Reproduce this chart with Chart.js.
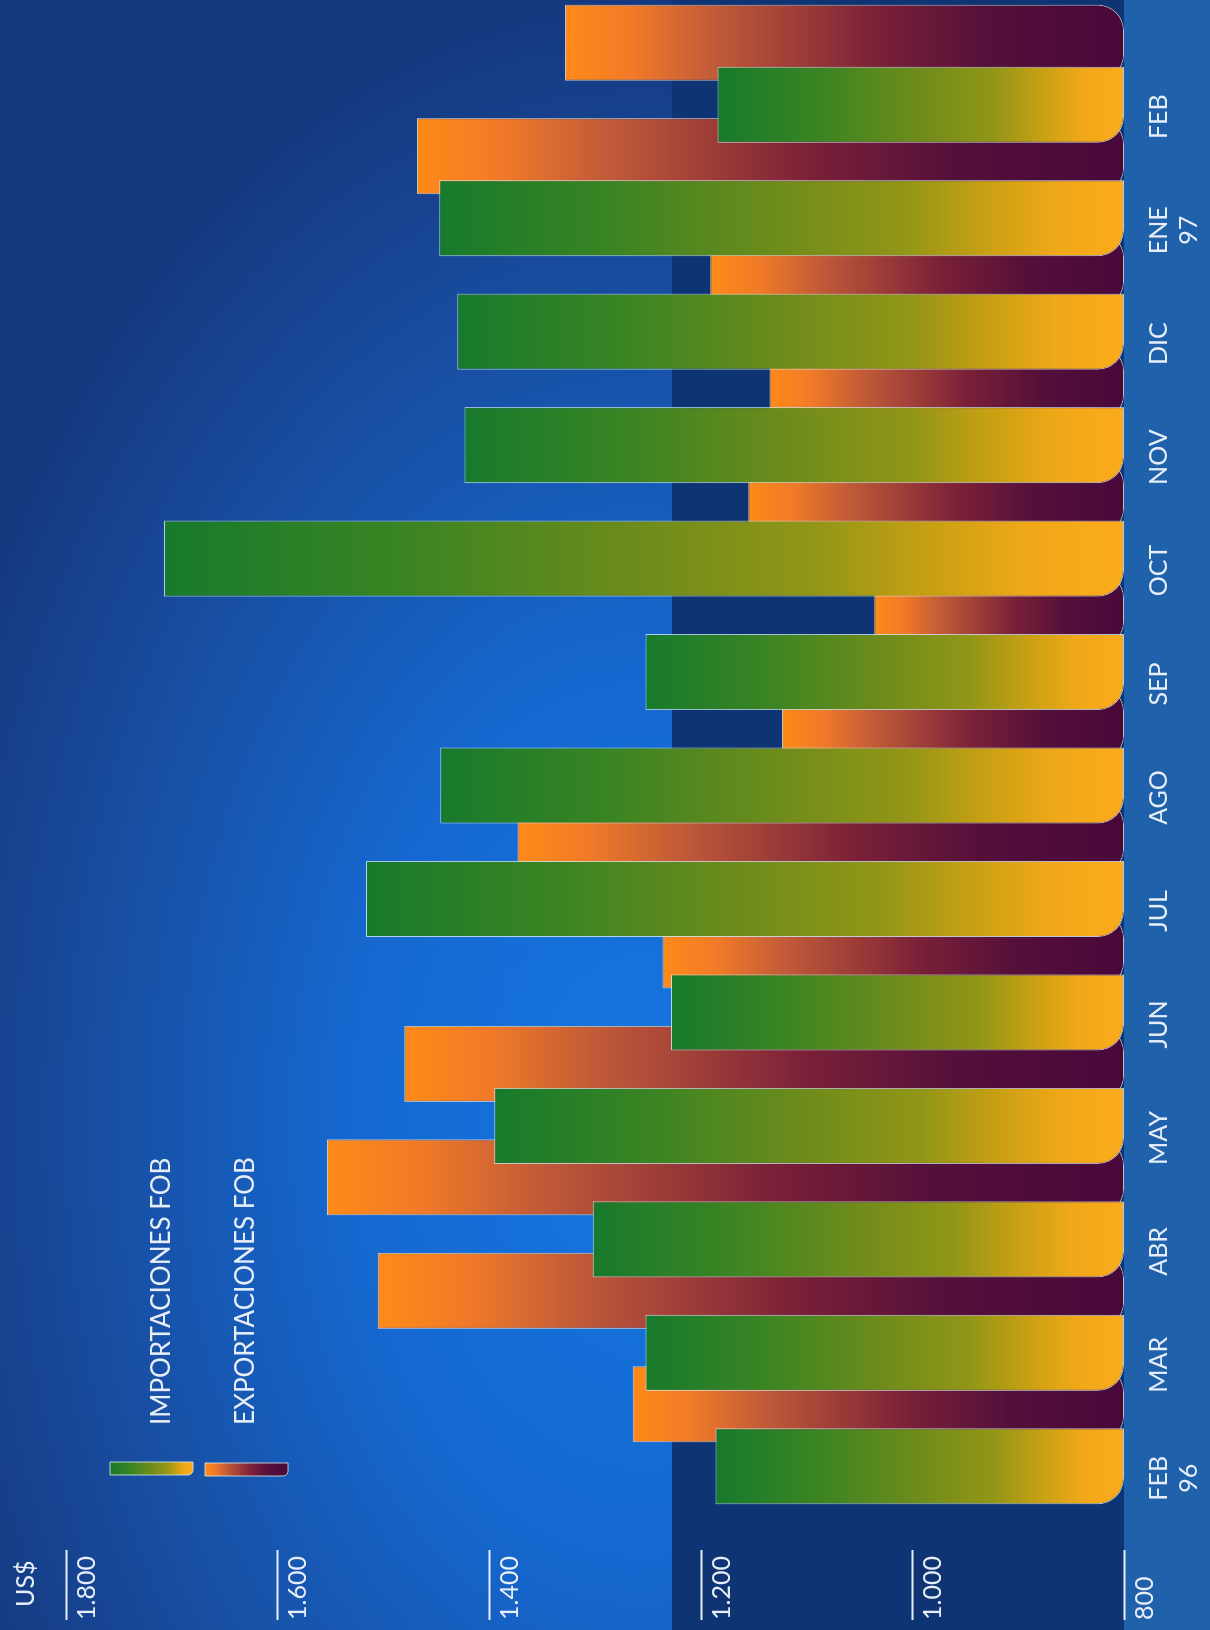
<!DOCTYPE html>
<html>
<head>
<meta charset="utf-8">
<script src="https://cdn.jsdelivr.net/npm/chart.js@4.4.1/dist/chart.umd.min.js"></script>
<style>
  html, body { margin: 0; padding: 0; }
  body {
    width: 1210px; height: 1630px; overflow: hidden; position: relative;
    background: radial-gradient(ellipse 760px 1150px at 640px 1120px, #1676e2 0%, #1568d0 38%, #184fa3 70%, #15377c 100%);
  }
  #wrap {
    position: absolute; left: 0; top: 0; width: 1630px; height: 1210px;
    transform-origin: 0 0; transform: translateY(1630px) rotate(-90deg);
  }
</style>
</head>
<body>
<div id="wrap"><canvas id="chart" width="1630" height="1210"></canvas></div>
<script>
'use strict';

var months = [['FEB', '96'], 'MAR', 'ABR', 'MAY', 'JUN', 'JUL', 'AGO', 'SEP', 'OCT', 'NOV', 'DIC', ['ENE', '97'], 'FEB'];
var importaciones = [1186, 1252, 1302, 1395, 1228, 1516, 1446, 1252, 1707, 1423, 1430, 1447, 1184];
var exportaciones = [1264, 1505, 1553, 1480, 1236, 1373, 1123, 1036, 1155, 1135, 1191, 1468, 1328];
var yTicks = [800, 1000, 1200, 1400, 1600, 1800];
var bandTop = 1227;

var textColor = '#e8eef8';
var fontFamily = 'Lato, "Noto Sans", sans-serif';

var impStops = [[0, '#177a2c'], [0.25, '#3a8423'], [0.5, '#6f8c1b'], [0.68, '#929617'], [0.8, '#c9a013'], [0.9, '#f0a818'], [1, '#fbab1c']];
var expStops = [[0, '#ff8a18'], [0.12, '#f07a28'], [0.27, '#c05a38'], [0.56, '#7a2038'], [0.76, '#55103a'], [1, '#48083a']];

function fmt(v) {
  return v >= 1000 ? Math.floor(v / 1000) + '.' + String(v % 1000).padStart(3, '0') : String(v);
}

function barGradient(stops) {
  return function (context) {
    var chart = context.chart;
    if (!chart.chartArea || context.type !== 'data') return stops[0][1];
    var y = chart.scales.y;
    var top = y.getPixelForValue(context.raw);
    var base = y.getPixelForValue(yTicks[0]);
    var g = chart.ctx.createLinearGradient(0, top, 0, base);
    stops.forEach(function (s) { g.addColorStop(s[0], s[1]); });
    return g;
  };
}

// background band + label strip
var backdrop = {
  id: 'backdrop',
  beforeDraw: function (chart) {
    var ctx = chart.ctx, area = chart.chartArea, y = chart.scales.y;
    ctx.save();
    ctx.fillStyle = '#1f62ab';
    ctx.fillRect(0, area.bottom, chart.width, chart.height - area.bottom);
    var t = y.getPixelForValue(bandTop);
    ctx.fillStyle = '#0f3474';
    ctx.fillRect(0, t, chart.width, area.bottom - t);
    ctx.restore();
  }
};

// tick lines, unit and legend
var extras = {
  id: 'extras',
  afterDraw: function (chart) {
    var ctx = chart.ctx, y = chart.scales.y;
    ctx.save();
    ctx.strokeStyle = textColor;
    ctx.lineWidth = 2;
    yTicks.forEach(function (v) {
      var p = Math.round(y.getPixelForValue(v)) + 0.5;
      ctx.beginPath();
      ctx.moveTo(10, p);
      ctx.lineTo(80, p);
      ctx.stroke();
    });
    ctx.fillStyle = textColor;
    ctx.font = '400 25px ' + fontFamily;
    ctx.textBaseline = 'middle';
    ctx.fillText('US$', 23, 26);

    var items = [
      { text: 'IMPORTACIONES FOB', stops: impStops, x: 155, y: 110, ty: 162 },
      { text: 'EXPORTACIONES FOB', stops: expStops, x: 154, y: 205, ty: 246 }
    ];
    items.forEach(function (it) {
      var g = ctx.createLinearGradient(0, it.y, 0, it.y + 83);
      it.stops.forEach(function (s) { g.addColorStop(s[0], s[1]); });
      ctx.fillStyle = g;
      ctx.strokeStyle = 'rgba(215,235,240,0.8)';
      ctx.lineWidth = 1;
      ctx.beginPath();
      ctx.roundRect(it.x, it.y, 13, 83, [0, 0, 0, 5]);
      ctx.fill();
      ctx.stroke();
      ctx.fillStyle = textColor;
      ctx.font = '400 26px ' + fontFamily;
      ctx.fillText(it.text, 205, it.ty);
    });
    ctx.restore();
  }
};

var ctx = document.getElementById('chart');
var chart = new Chart(ctx, {
  type: 'bar',
  data: {
    labels: months,
    datasets: [{
      label: 'IMPORTACIONES FOB',
      data: importaciones,
      base: yTicks[0],
      backgroundColor: barGradient(impStops),
      borderColor: 'rgba(205,232,240,0.85)',
      borderWidth: 1,
      borderSkipped: false,
      borderRadius: { topLeft: 0, topRight: 0, bottomLeft: 26, bottomRight: 0 },
      clip: false
    }, {
      label: 'EXPORTACIONES FOB',
      data: exportaciones,
      base: yTicks[0],
      backgroundColor: barGradient(expStops),
      borderColor: 'rgba(240,225,200,0.8)',
      borderWidth: 1,
      borderSkipped: false,
      borderRadius: { topLeft: 0, topRight: 0, bottomLeft: 26, bottomRight: 26 },
      clip: false
    }]
  },
  options: {
    responsive: false,
    animation: false,
    categoryPercentage: 1.0935,
    barPercentage: 1.226,
    layout: { padding: { left: 10, right: 17, top: 65.5, bottom: 0 } },
    plugins: {
      legend: { display: false },
      tooltip: { enabled: false }
    },
    scales: {
      x: {
        grid: { display: false },
        border: { display: false },
        ticks: {
          color: textColor,
          font: { family: fontFamily, size: 25, weight: 400 },
          padding: 12,
          labelOffset: -43,
          maxRotation: 0,
          autoSkip: false
        },
        afterFit: function (scale) { scale.height = 86; }
      },
      y: {
        min: 800,
        max: 1800,
        grid: { display: false },
        border: { display: false },
        afterBuildTicks: function (scale) {
          scale.ticks = yTicks.map(function (v) { return { value: v }; });
        },
        ticks: {
          color: textColor,
          font: { family: fontFamily, size: 25, weight: 400 },
          crossAlign: 'far',
          labelOffset: 21,
          callback: function (v) { return fmt(v); }
        },
        afterFit: function (scale) { scale.width = 128; }
      }
    }
  },
  plugins: [backdrop, extras]
});
</script>
</body>
</html>
